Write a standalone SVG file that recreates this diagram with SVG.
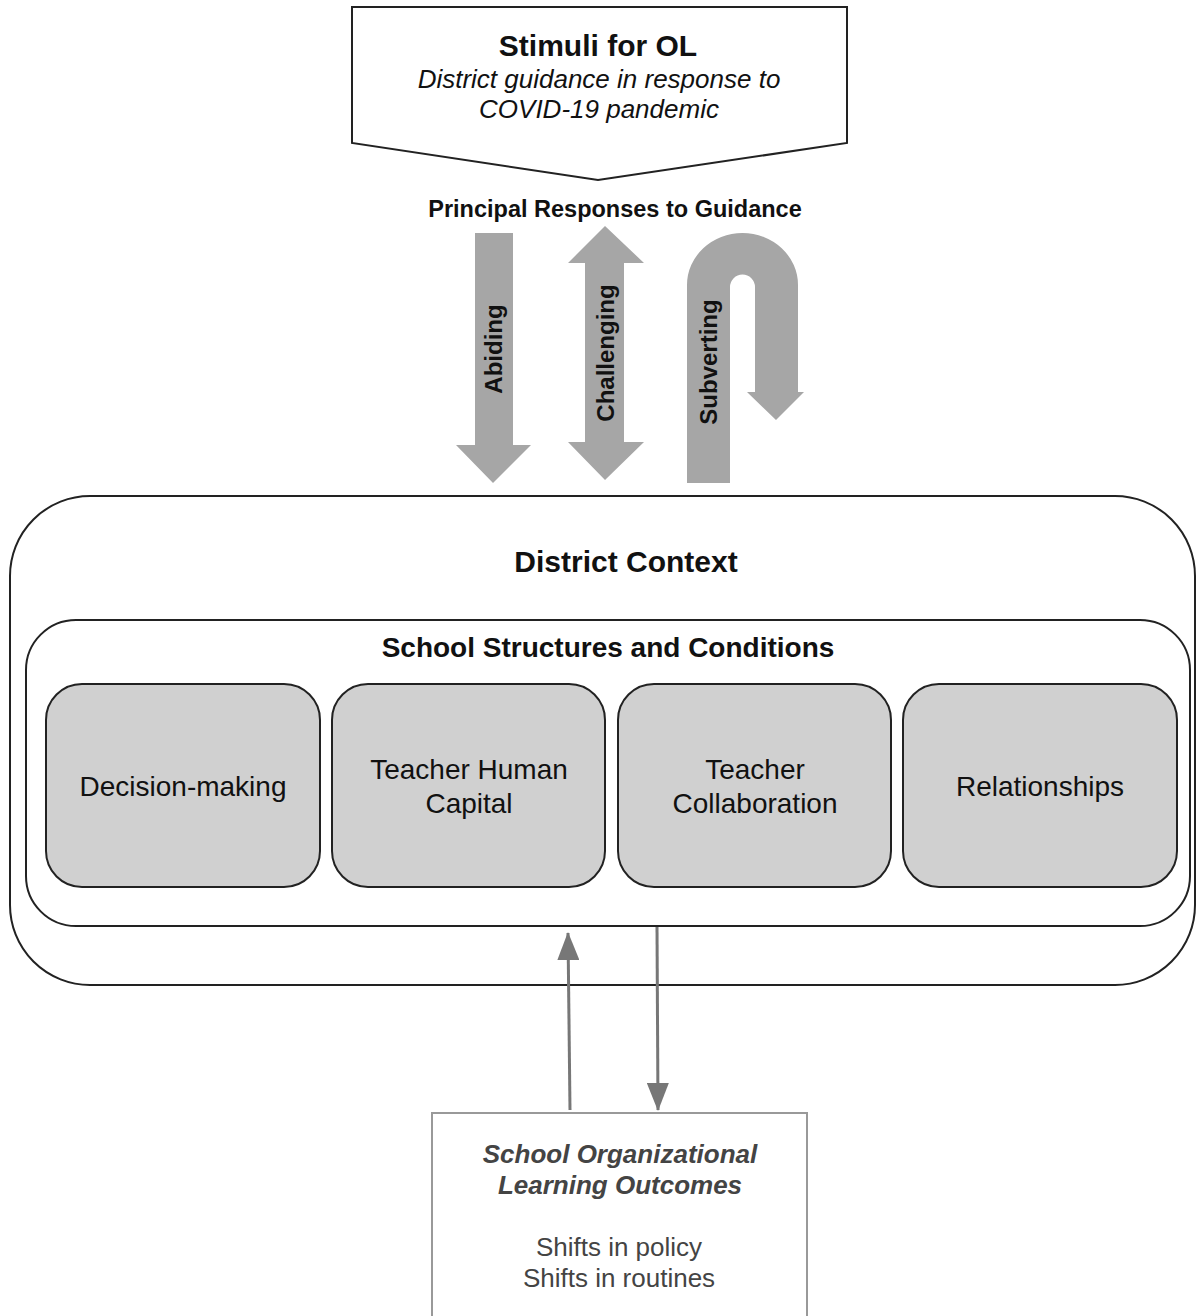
<svg xmlns="http://www.w3.org/2000/svg" width="1196" height="1316" viewBox="0 0 1196 1316">
<style>
text{font-family:"Liberation Sans",Arial,sans-serif;fill:#111;text-anchor:middle}
.b{font-weight:bold}
.it{font-style:italic}
.frame{fill:#fff;stroke:#222;stroke-width:2}
.cell{fill:#d0d0d0;stroke:#222;stroke-width:2}
.big{fill:#a6a6a6}
.lab{font-weight:bold;font-size:24px}
.cell-t{font-size:28px}
.conn{stroke:#777;stroke-width:3;fill:none}
.out{fill:#444}
</style>
<defs>
<marker id="ah2" viewBox="0 0 28 22" refX="27" refY="11" markerWidth="28" markerHeight="22" markerUnits="userSpaceOnUse" orient="auto">
<path d="M0,0 L28,11 L0,22 Z" fill="#777"/>
</marker>
</defs>
<rect width="1196" height="1316" fill="#fff"/>

<g id="stimuli">
<path d="M352,7 L847,7 L847,143 L598,180 L352,143 Z" class="frame"/>
<text x="598" y="56" class="b" font-size="30">Stimuli for OL</text>
<text x="599" y="88" class="it" font-size="26">District guidance in response to</text>
<text x="599" y="118" class="it" font-size="26">COVID-19 pandemic</text>
</g>

<g id="responses-title">
<text x="615" y="217" class="b" font-size="23.5">Principal Responses to Guidance</text>
</g>

<g id="abiding">
<path d="M475,233 L513,233 L513,445 L531,445 L493,483 L456,445 L475,445 Z" class="big"/>
<text class="lab" transform="translate(502,349) rotate(-90)">Abiding</text>
</g>

<g id="challenging">
<path d="M605,226 L644,263 L624,263 L624,442 L644,442 L605,480 L568,442 L585,442 L585,263 L568,263 Z" class="big"/>
<text class="lab" transform="translate(614,353) rotate(-90)">Challenging</text>
</g>

<g id="subverting">
<path d="M687,483 L687,285 A55.5,52 0 0 1 798,285 L798,392 L804,392 L776,420 L747,392 L755,392 L755,287 A12.5,12.5 0 0 0 730,287 L730,483 Z" class="big"/>
<text class="lab" transform="translate(717,362) rotate(-90)">Subverting</text>
</g>

<g id="district-context">
<rect x="10" y="496" width="1185" height="489" rx="80" ry="80" class="frame"/>
<text x="626" y="572" class="b" font-size="30">District Context</text>
</g>

<g id="school-structures">
<rect x="26" y="620" width="1164" height="306" rx="50" ry="50" class="frame"/>
<text x="608" y="657" class="b" font-size="28">School Structures and Conditions</text>
</g>

<g id="decision-making">
<rect x="46" y="684" width="274" height="203" rx="36" ry="36" class="cell"/>
<text x="183" y="796" class="cell-t">Decision-making</text>
</g>

<g id="teacher-human-capital">
<rect x="332" y="684" width="273" height="203" rx="36" ry="36" class="cell"/>
<text x="469" y="779" class="cell-t">Teacher Human</text>
<text x="469" y="813" class="cell-t">Capital</text>
</g>

<g id="teacher-collaboration">
<rect x="618" y="684" width="273" height="203" rx="36" ry="36" class="cell"/>
<text x="755" y="779" class="cell-t">Teacher</text>
<text x="755" y="813" class="cell-t">Collaboration</text>
</g>

<g id="relationships">
<rect x="903" y="684" width="274" height="203" rx="36" ry="36" class="cell"/>
<text x="1040" y="796" class="cell-t">Relationships</text>
</g>

<g id="outcomes">
<rect x="432" y="1113" width="375" height="220" fill="#fff" stroke="#999" stroke-width="2"/>
<text x="620" y="1163" class="b it out" font-size="26">School Organizational</text>
<text x="620" y="1194" class="b it out" font-size="26">Learning Outcomes</text>
<text x="619" y="1256" class="out" font-size="26">Shifts in policy</text>
<text x="619" y="1287" class="out" font-size="26">Shifts in routines</text>
</g>

<g id="connectors">
<line x1="570" y1="1110" x2="568" y2="933" class="conn" marker-end="url(#ah2)"/>
<line x1="657" y1="927" x2="658" y2="1110" class="conn" marker-end="url(#ah2)"/>
</g>
</svg>
